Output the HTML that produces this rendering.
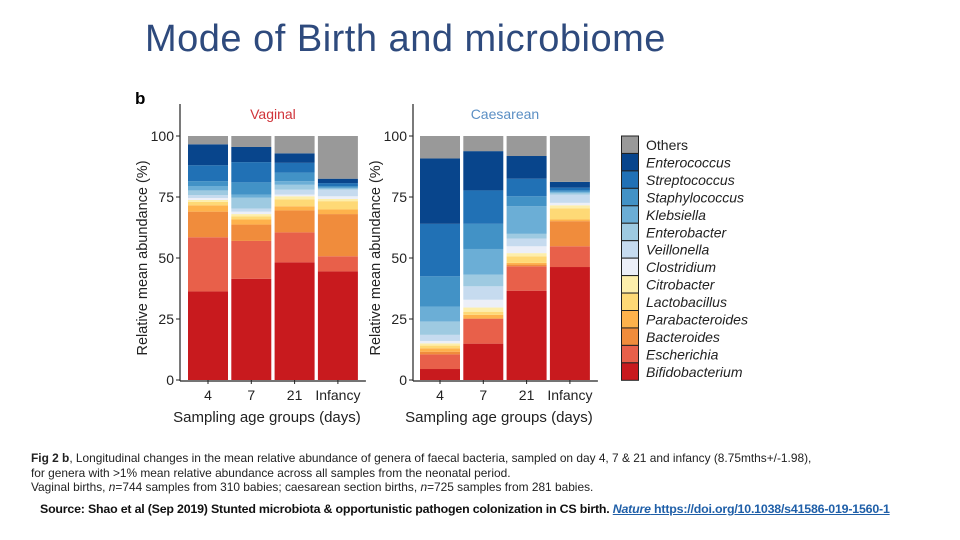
<!DOCTYPE html>
<html><head><meta charset="utf-8"><style>
body{margin:0;background:#fff;width:960px;height:540px;overflow:hidden;position:relative;font-family:"Liberation Sans",sans-serif}
#title{position:absolute;left:145px;top:18px;font-size:38px;color:#2e4a7d;letter-spacing:0.5px}
#cap{position:absolute;left:31px;top:451px;font-size:11.9px;color:#222;line-height:14.5px}
#src{position:absolute;left:40px;top:502px;font-size:12.4px;font-weight:bold;color:#111;letter-spacing:-0.2px}
#src a{color:#1f5fa8;text-decoration:underline}
</style></head><body>
<div id="title">Mode of Birth and microbiome</div>
<svg id="chart" width="960" height="540" style="position:absolute;left:0;top:0"></svg>
<div id="cap"><b>Fig 2 b</b>, Longitudinal changes in the mean relative abundance of genera of faecal bacteria, sampled on day 4, 7 &amp; 21 and infancy (8.75mths+/-1.98),<br>for genera with &gt;1% mean relative abundance across all samples from the neonatal period.<br>Vaginal births, <i>n</i>=744 samples from 310 babies; caesarean section births, <i>n</i>=725 samples from 281 babies.</div>
<div id="src">Source: Shao et al (Sep 2019) Stunted microbiota &amp; opportunistic pathogen colonization in CS birth. <a><i>Nature</i> https://doi.org/10.1038/s41586-019-1560-1</a></div>
<script>
const categories=["4","7","21","Infancy"];
const genera=["Bifidobacterium","Escherichia","Bacteroides","Parabacteroides","Lactobacillus","Citrobacter","Clostridium","Veillonella","Enterobacter","Klebsiella","Staphylococcus","Streptococcus","Enterococcus","Others"];
const colors=["#c81a1e","#e8604a","#f08c3c","#feb24c","#fed976","#fdeeab","#eceff8","#c6dbef","#9ecae1","#6baed6","#4292c6","#2171b5","#08458c","#999999"];
const vaginal4=[36.3,22.2,10.5,2.6,1.4,0.8,0.8,1.2,1.9,1.8,2,6.5,8.6,3.4];
const vaginal7=[41.5,15.5,6.7,2.1,1.2,1,1,1.3,4.4,1.3,5,8.3,6.2,4.5];
const vaginal21=[48.2,12.3,9,1.7,2.8,1.3,0.7,2,2,1.5,3.5,4,3.9,7.1];
const vaginalInf=[44.5,6.2,17.3,1.9,3.4,0.9,1.1,2.7,0.5,0.3,0.7,1.2,1.8,17.5];
const caes4=[4.5,6,1.1,1.4,1.1,0.9,1,2.5,5.5,6.1,12.4,21.5,26.8,9.2];
const caes7=[14.9,10.1,0.3,1.4,1.3,1.7,3.2,5.5,4.8,10.5,10.3,13.7,16.1,6.2];
const caes21=[36.6,10,0.7,0.7,2.7,1.3,2.8,3.2,1.9,11.3,4.1,7.2,9.3,8.2];
const caesInf=[46.3,8.5,10.3,0.7,4.5,1.3,1,3.4,0.7,0.4,0.6,1.1,2.4,18.8];
const yTicks=[0,25,50,75,100];

const svg=document.getElementById('chart');
const NS='http://www.w3.org/2000/svg';
function mk(t,a,txt){const e=document.createElementNS(NS,t);for(const k in a)e.setAttribute(k,a[k]);if(txt!==undefined)e.textContent=txt;svg.appendChild(e);return e;}
const y0=380,y100=136;
function yS(v){return y0-(v/100)*(y0-y100);}

function panel(axisX,firstBar,title,titleColor,series,key){
  const bw=40,step=43.3;
  const xS=i=>firstBar+i*step;
  series.forEach((vals,i)=>{
    let cum=0;
    vals.forEach((v,j)=>{
      const r=mk('rect',{x:xS(i),y:yS(cum+v),width:bw,height:Math.max(0,yS(cum)-yS(cum+v)),fill:colors[j]});
      
      
      cum+=v;
    });
    const t=mk('text',{x:xS(i)+bw/2,y:400,'font-size':14,'text-anchor':'middle',fill:'#222'},categories[i]);
    
    
    mk('line',{x1:xS(i)+bw/2,x2:xS(i)+bw/2,y1:380,y2:384,stroke:'#222'});
  });
  const a=mk('line',{x1:axisX,x2:axisX,y1:104,y2:381,stroke:'#222','stroke-width':1.2});
  
  const b=mk('line',{x1:axisX,x2:xS(3)+bw+8,y1:381,y2:381,stroke:'#222','stroke-width':1.2});
  
  yTicks.forEach(v=>{
    mk('line',{x1:axisX-4,x2:axisX,y1:yS(v),y2:yS(v),stroke:'#222'});
    const t=mk('text',{x:axisX-6,y:yS(v)+5,'font-size':14,'text-anchor':'end',fill:'#222'},v);
    
  });
  const tt=mk('text',{x:firstBar+step*1.5+bw/2,y:119,'font-size':14,'text-anchor':'middle',fill:titleColor},title);
  
  const yl=mk('text',{x:0,y:0,'font-size':14.5,'text-anchor':'middle',fill:'#222',transform:`translate(${axisX-33},258) rotate(-90)`},'Relative mean abundance (%)');
  
  const xl=mk('text',{x:firstBar+step*1.5+bw/2-6,y:422,'font-size':15,'text-anchor':'middle',fill:'#222'},'Sampling age groups (days)');
  
}
const bl=mk('text',{x:135,y:104,'font-size':17,'font-weight':'bold',fill:'#000'},'b');

panel(180,188,'Vaginal','#d0343a',[vaginal4,vaginal7,vaginal21,vaginalInf],'vaginal');
panel(413,420,'Caesarean','#5b8fc4',[caes4,caes7,caes21,caesInf],'caesarean');

for(let k=0;k<genera.length;k++){
  const j=genera.length-1-k;
  const yy=136+k*17.45;
  const r=mk('rect',{x:621.5,y:yy,width:17,height:17.45,fill:colors[j],stroke:'#222','stroke-width':1});
  
  const t=mk('text',{x:646,y:yy+14,'font-size':14,fill:'#222','font-style':j===13?'normal':'italic'},genera[j]);
  
}
</script>
</body></html>
